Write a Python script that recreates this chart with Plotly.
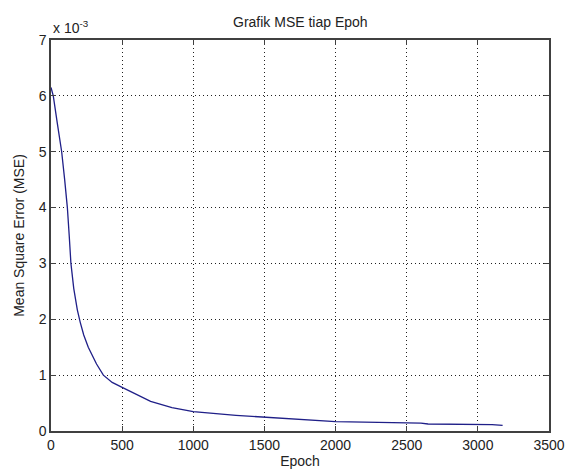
import plotly.graph_objects as go

# Epoch values and MSE (in units of 1e-3)
epoch = [0, 16, 45, 75, 96, 115, 128, 140, 160, 185, 205, 230, 262, 320, 368, 430, 500, 600, 700, 850,
         1000, 1300, 1500, 1750, 2000, 2300, 2500, 2600, 2650, 3000, 3100, 3174]
mse_e3 = [6.15, 6.0, 5.5, 5.0, 4.5, 4.0, 3.5, 3.0, 2.55, 2.17, 1.95, 1.72, 1.5, 1.2, 1.0, 0.87, 0.78, 0.65, 0.53, 0.42,
          0.345, 0.28, 0.245, 0.2, 0.167, 0.155, 0.15, 0.14, 0.125, 0.125, 0.115, 0.10]

x_ticks = [0, 500, 1000, 1500, 2000, 2500, 3000, 3500]
y_ticks = [0, 1, 2, 3, 4, 5, 6, 7]

title_text = "Grafik MSE tiap Epoh"
x_label = "Epoch"
y_label = "Mean Square Error (MSE)"
exp_text = "x 10<sup>-3</sup>"

font = "Liberation Sans, Arial, sans-serif"
txt = "#222222"

fig = go.Figure()
fig.add_trace(go.Scatter(x=epoch, y=mse_e3, mode="lines",
                         line=dict(color="#1f1f88", width=1.3),
                         showlegend=False, hoverinfo="skip"))

axis_common = dict(showline=True, linecolor="#404040", linewidth=1.5, mirror="allticks",
                   ticks="inside", ticklen=5, tickcolor="#404040", tickwidth=1,
                   showgrid=True, gridcolor="#202020", griddash="1px,3px", gridwidth=1,
                   zeroline=False, automargin=False,
                   tickfont=dict(family=font, size=14, color=txt))

fig.update_xaxes(range=[0, 3500], tickvals=x_ticks, ticktext=[str(v) for v in x_ticks],
                 title=dict(text=x_label, font=dict(family=font, size=14, color=txt), standoff=5),
                 **axis_common)
fig.update_yaxes(range=[0, 7], tickvals=y_ticks, ticktext=[str(v) for v in y_ticks],
                 title=dict(text=y_label, font=dict(family=font, size=14, color=txt), standoff=11),
                 **axis_common)

fig.update_layout(
    width=576, height=471,
    margin=dict(l=43, r=35, t=32, b=48),
    plot_bgcolor="white", paper_bgcolor="white",
    annotations=[
        dict(text=title_text, xref="paper", yref="paper", x=0.5, y=1,
             xanchor="center", yanchor="bottom", yshift=8, showarrow=False,
             font=dict(family=font, size=14, color=txt)),
        dict(text=exp_text, xref="paper", yref="paper", x=0, y=1,
             xanchor="left", yanchor="bottom", yshift=2, showarrow=False,
             font=dict(family=font, size=14, color=txt)),
    ],
)

fig.write_html("out.html")
